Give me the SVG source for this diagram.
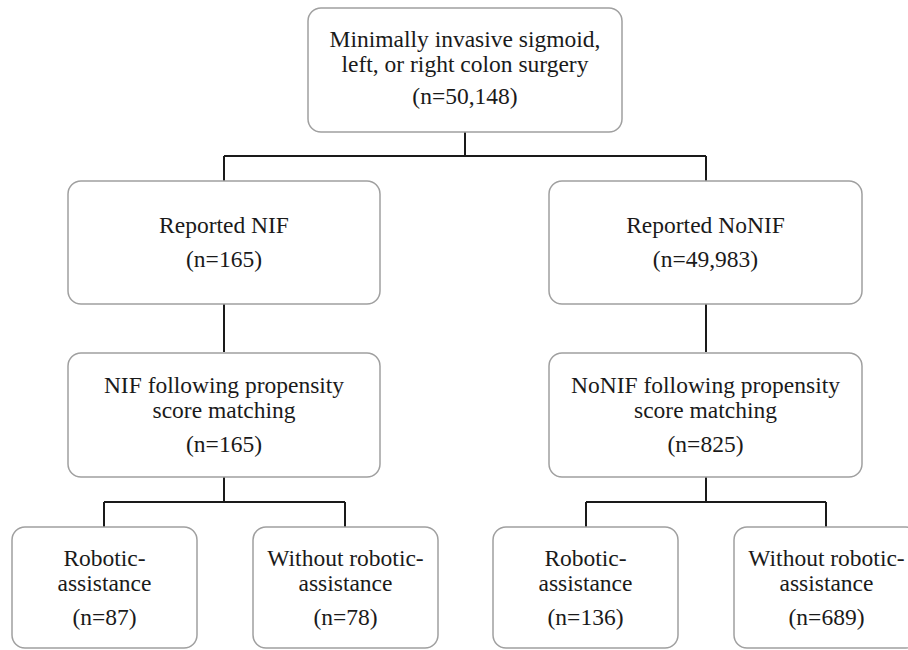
<svg xmlns="http://www.w3.org/2000/svg" width="908" height="650" viewBox="0 0 908 650">
<style>
.box{fill:#fff;stroke:#a0a0a0;stroke-width:1.5}
.t{font-family:'Liberation Serif','Times New Roman','DejaVu Serif',serif;font-size:23.5px;fill:#1a1a1a;text-anchor:middle}
.c{fill:none;stroke:#1a1a1a;stroke-width:2}
</style>
<rect width="908" height="650" fill="#fff"/>
<g id="connectors">
<path class="c" d="M465,132 V156 M224,156 H706 M224,156 V181 M706,156 V181"/>
<path class="c" d="M224,304 V352 M706,304 V352"/>
<path class="c" d="M224,477 V502 M104,502 H345 M104,502 V527 M345,502 V527"/>
<path class="c" d="M706,477 V502 M586,502 H826 M586,502 V527 M826,502 V527"/>
</g>
<g id="n0">
<rect class="box" x="308" y="8" width="314" height="124" rx="13"/>
<text class="t" x="465" y="47" font-family="Liberation Serif">Minimally invasive sigmoid,</text>
<text class="t" x="465" y="72">left, or right colon surgery</text>
<text class="t" x="465" y="104">(n=50,148)</text>
</g>
<g id="n1">
<rect class="box" x="68" y="181" width="312" height="123" rx="13"/>
<text class="t" x="224" y="233">Reported NIF</text>
<text class="t" x="224" y="267">(n=165)</text>
</g>
<g id="n2">
<rect class="box" x="549" y="181" width="313" height="123" rx="13"/>
<text class="t" x="705.5" y="233">Reported NoNIF</text>
<text class="t" x="705.5" y="267">(n=49,983)</text>
</g>
<g id="n3">
<rect class="box" x="68" y="353" width="312" height="124" rx="13"/>
<text class="t" x="224" y="393">NIF following propensity</text>
<text class="t" x="224" y="418">score matching</text>
<text class="t" x="224" y="452">(n=165)</text>
</g>
<g id="n4">
<rect class="box" x="549" y="353" width="313" height="124" rx="13"/>
<text class="t" x="705.5" y="393">NoNIF following propensity</text>
<text class="t" x="705.5" y="418">score matching</text>
<text class="t" x="705.5" y="452">(n=825)</text>
</g>
<g id="n5">
<rect class="box" x="12" y="527" width="185" height="121" rx="13"/>
<text class="t" x="104.5" y="566">Robotic-</text>
<text class="t" x="104.5" y="591">assistance</text>
<text class="t" x="104.5" y="625">(n=87)</text>
</g>
<g id="n6">
<rect class="box" x="253" y="527" width="185" height="121" rx="13"/>
<text class="t" x="345.5" y="566">Without robotic-</text>
<text class="t" x="345.5" y="591">assistance</text>
<text class="t" x="345.5" y="625">(n=78)</text>
</g>
<g id="n7">
<rect class="box" x="493" y="527" width="185" height="121" rx="13"/>
<text class="t" x="585.5" y="566">Robotic-</text>
<text class="t" x="585.5" y="591">assistance</text>
<text class="t" x="585.5" y="625">(n=136)</text>
</g>
<g id="n8">
<rect class="box" x="734" y="527" width="185" height="121" rx="13"/>
<text class="t" x="826.5" y="566">Without robotic-</text>
<text class="t" x="826.5" y="591">assistance</text>
<text class="t" x="826.5" y="625">(n=689)</text>
</g>
</svg>
